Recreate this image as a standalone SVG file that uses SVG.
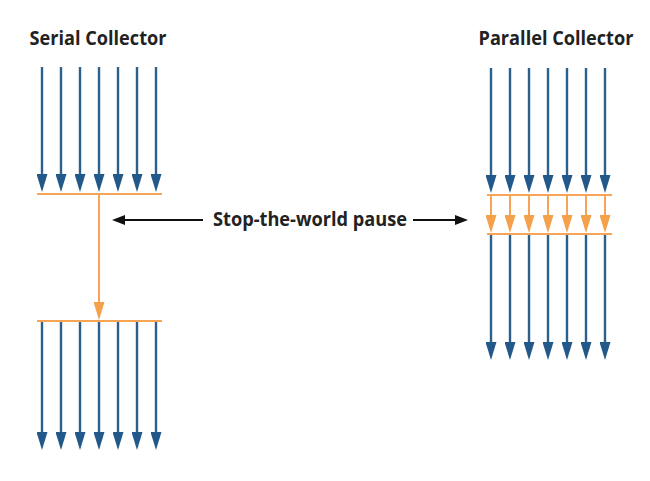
<svg xmlns="http://www.w3.org/2000/svg" width="650" height="481" viewBox="0 0 650 481">
<defs>
<marker id="hb" markerUnits="userSpaceOnUse" viewBox="0 0 18 11" markerWidth="18" markerHeight="11" refX="10" refY="5.5" orient="auto"><path d="M0,0 L18,5.5 L0,11 z" fill="#23598a"/></marker>
<marker id="ho" markerUnits="userSpaceOnUse" viewBox="0 0 18 11" markerWidth="18" markerHeight="11" refX="10" refY="5.5" orient="auto"><path d="M0,0 L18,5.5 L0,11 z" fill="#f5a04a"/></marker>
<marker id="hk" markerUnits="userSpaceOnUse" viewBox="0 0 13 10" markerWidth="13" markerHeight="10" refX="9" refY="5" orient="auto"><path d="M0,0 L13,5 L0,10 z" fill="#111"/></marker>
<style>
.b{stroke:#2b5f8c;stroke-width:2.4;fill:none;marker-end:url(#hb)}
.o{stroke:#f5a555;stroke-width:2;fill:none}
.oa{stroke:#f5a555;stroke-width:2;fill:none;marker-end:url(#ho)}
.k{stroke:#111;stroke-width:2;fill:none;marker-end:url(#hk)}
.t{font-family:"Open Sans","DejaVu Sans",sans-serif;font-weight:700;fill:#222;font-size:19px}
</style>
</defs>
<rect width="650" height="481" fill="#fff"/>
<g id="serial">
<text class="t" x="98" y="45" text-anchor="middle" textLength="137" lengthAdjust="spacingAndGlyphs">Serial Collector</text>
<g id="serial-top">
<line class="b" x1="42" y1="67" x2="42" y2="184"/><line class="b" x1="61" y1="67" x2="61" y2="184"/><line class="b" x1="80" y1="67" x2="80" y2="184"/><line class="b" x1="99" y1="67" x2="99" y2="184"/><line class="b" x1="118" y1="67" x2="118" y2="184"/><line class="b" x1="137" y1="67" x2="137" y2="184"/><line class="b" x1="156" y1="67" x2="156" y2="184"/>
</g>
<line class="o" x1="37" y1="194" x2="162" y2="194"/>
<line class="oa" x1="99" y1="194" x2="99" y2="312"/>
<line class="o" x1="37" y1="321" x2="162" y2="321"/>
<g id="serial-bottom">
<line class="b" x1="42" y1="322" x2="42" y2="442"/><line class="b" x1="61" y1="322" x2="61" y2="442"/><line class="b" x1="80" y1="322" x2="80" y2="442"/><line class="b" x1="99" y1="322" x2="99" y2="442"/><line class="b" x1="118" y1="322" x2="118" y2="442"/><line class="b" x1="137" y1="322" x2="137" y2="442"/><line class="b" x1="156" y1="322" x2="156" y2="442"/>
</g>
</g>
<g id="parallel">
<text class="t" x="556" y="45" text-anchor="middle" textLength="155" lengthAdjust="spacingAndGlyphs">Parallel Collector</text>
<g id="parallel-top">
<line class="b" x1="491" y1="68" x2="491" y2="185"/><line class="b" x1="510" y1="68" x2="510" y2="185"/><line class="b" x1="529" y1="68" x2="529" y2="185"/><line class="b" x1="548" y1="68" x2="548" y2="185"/><line class="b" x1="567" y1="68" x2="567" y2="185"/><line class="b" x1="586" y1="68" x2="586" y2="185"/><line class="b" x1="605" y1="68" x2="605" y2="185"/>
</g>
<line class="o" x1="487" y1="195" x2="612" y2="195"/>
<g id="parallel-gc">
<line class="oa" x1="491" y1="195" x2="491" y2="225"/><line class="oa" x1="510" y1="195" x2="510" y2="225"/><line class="oa" x1="529" y1="195" x2="529" y2="225"/><line class="oa" x1="548" y1="195" x2="548" y2="225"/><line class="oa" x1="567" y1="195" x2="567" y2="225"/><line class="oa" x1="586" y1="195" x2="586" y2="225"/><line class="oa" x1="605" y1="195" x2="605" y2="225"/>
</g>
<line class="o" x1="487" y1="234" x2="612" y2="234"/>
<g id="parallel-bottom">
<line class="b" x1="491" y1="235" x2="491" y2="352"/><line class="b" x1="510" y1="235" x2="510" y2="352"/><line class="b" x1="529" y1="235" x2="529" y2="352"/><line class="b" x1="548" y1="235" x2="548" y2="352"/><line class="b" x1="567" y1="235" x2="567" y2="352"/><line class="b" x1="586" y1="235" x2="586" y2="352"/><line class="b" x1="605" y1="235" x2="605" y2="352"/>
</g>
</g>
<g id="pause-label">
<text class="t" x="310" y="226" text-anchor="middle" textLength="194" lengthAdjust="spacingAndGlyphs">Stop-the-world pause</text>
</g>
<g id="connectors">
<line class="k" x1="203" y1="220" x2="116" y2="220"/>
<line class="k" x1="413" y1="220" x2="464" y2="220"/>
</g>
</svg>
